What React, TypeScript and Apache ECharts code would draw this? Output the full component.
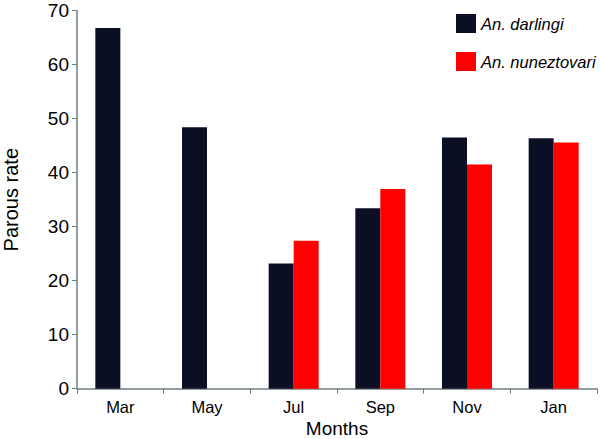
import React, { useEffect, useRef } from "react";
import * as echarts from "echarts";

const months = ["Mar", "May", "Jul", "Sep", "Nov", "Jan"];
const darlingi = [66.8, 48.4, 23.2, 33.4, 46.5, 46.4];
const nuneztovari: (number | string)[] = ["-", "-", 27.4, 37.0, 41.5, 45.6];
const yTicks = { min: 0, max: 70, interval: 10 };

const FONT = "'Liberation Sans', Arial, sans-serif";
const AXIS_COLOR = "#6f7f7f";

export default function App() {
  const ref = useRef<HTMLDivElement>(null);
  useEffect(() => {
    if (!ref.current) return;
    const chart = echarts.init(ref.current, null, { renderer: "svg" });
    chart.setOption({
      animation: false,
      backgroundColor: "#ffffff",
      textStyle: { fontFamily: FONT },
      grid: {
        left: 77,
        right: 3,
        top: 10.7,
        bottom: 50.3,
        containLabel: false,
        outerBoundsMode: "none",
      },
      legend: {
        orient: "vertical",
        left: 451,
        top: 9,
        icon: "rect",
        itemWidth: 20,
        itemHeight: 19,
        itemGap: 19,
        textStyle: { fontFamily: FONT, fontSize: 16.5, fontStyle: "italic", color: "#000" },
        data: ["An. darlingi", "An. nuneztovari"],
      },
      xAxis: {
        type: "category",
        data: months,
        name: "Months",
        nameLocation: "middle",
        nameGap: 30,
        nameMoveOverlap: false,
        nameTextStyle: { fontFamily: FONT, fontSize: 19, lineHeight: 19, color: "#000" },
        axisLine: { lineStyle: { color: AXIS_COLOR, width: 1.5 } },
        axisTick: { show: true, length: 5, inside: false, lineStyle: { color: AXIS_COLOR } },
        axisLabel: { fontFamily: FONT, fontSize: 16.5, color: "#000", margin: 10 },
      },
      yAxis: {
        type: "value",
        min: yTicks.min,
        max: yTicks.max,
        interval: yTicks.interval,
        name: "Parous rate",
        nameLocation: "middle",
        nameGap: 56,
        nameRotate: 90,
        nameMoveOverlap: false,
        nameTextStyle: { fontFamily: FONT, fontSize: 20, color: "#000" },
        axisLine: { show: true, lineStyle: { color: AXIS_COLOR, width: 1.5 } },
        axisTick: { show: true, length: 5, lineStyle: { color: AXIS_COLOR } },
        axisLabel: { fontFamily: FONT, fontSize: 19, color: "#000", margin: 8 },
        splitLine: { show: false },
      },
      series: [
        {
          name: "An. darlingi",
          type: "bar",
          data: darlingi,
          barWidth: 25,
          barGap: "0%",
          itemStyle: { color: "#0a0f24" },
        },
        {
          name: "An. nuneztovari",
          type: "bar",
          data: nuneztovari,
          barWidth: 25,
          barGap: "0%",
          itemStyle: { color: "#ff0000" },
        },
      ],
    });
    return () => chart.dispose();
  }, []);
  return <div ref={ref} style={{ width: 600, height: 439, position: "absolute", left: 0, top: 0 }} />;
}
